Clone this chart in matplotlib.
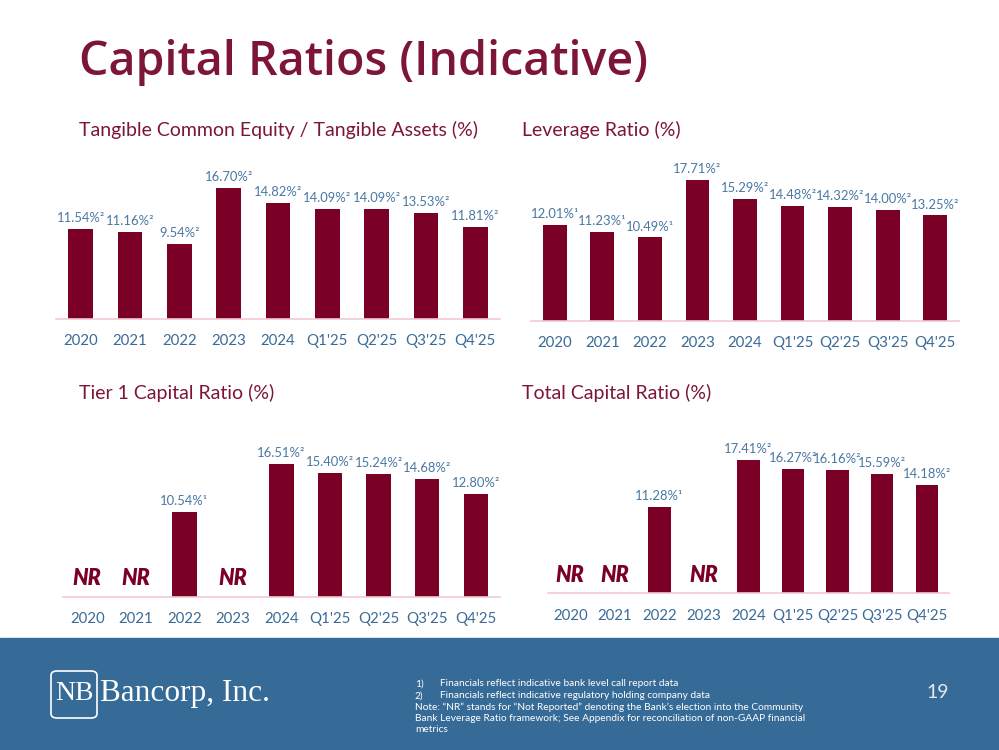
import matplotlib
matplotlib.use("Agg")
import matplotlib.pyplot as plt
from matplotlib.patches import Rectangle, FancyBboxPatch

categories = ["2020", "2021", "2022", "2023", "2024", "Q1'25", "Q2'25", "Q3'25", "Q4'25"]

tce_values = [11.54, 11.16, 9.54, 16.70, 14.82, 14.09, 14.09, 13.53, 11.81]
tce_notes = ["²", "²", "²", "²", "²", "²", "²", "²", "²"]

lev_values = [12.01, 11.23, 10.49, 17.71, 15.29, 14.48, 14.32, 14.00, 13.25]
lev_notes = ["¹", "¹", "¹", "²", "²", "²", "²", "²", "²"]

tier1_values = [None, None, 10.54, None, 16.51, 15.40, 15.24, 14.68, 12.80]
tier1_notes = ["", "", "¹", "", "²", "²", "²", "²", "²"]

total_values = [None, None, 11.28, None, 17.41, 16.27, 16.16, 15.59, 14.18]
total_notes = ["", "", "¹", "", "²", "²", "²", "²", "²"]

W, H = 999, 750
fig = plt.figure(figsize=(W / 100, H / 100), dpi=100)
fig.patch.set_facecolor("white")

BAR = "#7A0026"
MAROON = "#7D1636"
BLUE_TICK = "#3A6A98"
BLUE_LBL = "#4A78A3"
AXLINE = "#F3C9D3"
FONT = ["Lato", "DejaVu Sans"]


def fx(x):
    return x / W


def fy(y):
    return 1 - y / H


def make_panel(left, right, top, base, ymax, values, notes, title, title_x, title_y, lbl_fs=9.4):
    ax = fig.add_axes([fx(left), fy(base), fx(right) - fx(left), fy(top) - fy(base)])
    ax.set_xlim(-0.5, len(categories) - 0.5)
    ax.set_ylim(0, ymax)
    for i, v in enumerate(values):
        if v is None:
            ax.text(i, ymax * 0.115, "NR", ha="center", va="center", fontsize=15.5,
                    fontweight="heavy", fontstyle="italic", color=BAR, family=FONT)
            continue
        ax.bar(i, v, width=0.5, color=BAR, zorder=2)
        ax.annotate(f"{v:.2f}%{notes[i]}", (i, v), xytext=(0, 3.5), textcoords="offset points",
                    ha="center", va="bottom", fontsize=lbl_fs, color=BLUE_LBL, family=FONT)
    for s in ["top", "right", "left"]:
        ax.spines[s].set_visible(False)
    ax.spines["bottom"].set_color(AXLINE)
    ax.spines["bottom"].set_linewidth(1.2)
    ax.set_yticks([])
    ax.set_xticks(range(len(categories)))
    ax.set_xticklabels(categories, fontsize=10.8, color=BLUE_TICK, family=FONT)
    ax.tick_params(axis="x", length=0, pad=11)
    ax.patch.set_alpha(0)
    fig.text(fx(title_x), fy(title_y), title, ha="left", va="center", fontsize=14,
             color=MAROON, family=FONT)
    return ax


make_panel(56, 500, 160, 319, (319 - 160) / 7.83, tce_values, tce_notes,
           "Tangible Common Equity / Tangible Assets (%)", 79, 130)
make_panel(531, 959, 160, 320.7, (320.7 - 160) / 7.94, lev_values, lev_notes,
           "Leverage Ratio (%)", 522, 130)
make_panel(63, 500, 440, 596.7, (596.7 - 440) / 8.05, tier1_values, tier1_notes,
           "Tier 1 Capital Ratio (%)", 79, 393)
make_panel(548, 949, 440, 593.3, (593.3 - 440) / 7.66, total_values, total_notes,
           "Total Capital Ratio (%)", 522, 393)

# Main title
fig.text(fx(79), fy(62), "Capital Ratios (Indicative)", ha="left", va="center",
         fontsize=33.5, fontweight="semibold", color=MAROON, family=["Open Sans", "DejaVu Sans"])

# Footer band
band = Rectangle((0, 0), 1, fy(638), transform=fig.transFigure, color="#366B97", zorder=0)
fig.patches.append(band)

logo_box = FancyBboxPatch((fx(51), fy(718)), fx(97) - fx(51), fy(671) - fy(718),
                          boxstyle="round,pad=0,rounding_size=0.006", transform=fig.transFigure,
                          facecolor="none", edgecolor="white", linewidth=1.2, zorder=2)
fig.patches.append(logo_box)
fig.text(fx(74), fy(694), "NB", ha="center", va="center", fontsize=20, color="white",
         family=["Liberation Serif", "DejaVu Serif"])
fig.text(fx(100), fy(693), "Bancorp, Inc.", ha="left", va="center", fontsize=22.5, color="white",
         family=["Liberation Serif", "DejaVu Serif"])

foot_lines = [
    ("1)", "Financials reflect indicative bank level call report data"),
    ("2)", "Financials reflect indicative regulatory holding company data"),
]
ys = [684, 695.7, 707, 718.5, 730]
FS = 7.3
for (num, txt), y in zip(foot_lines, ys[:2]):
    fig.text(fx(415), fy(y), num, ha="left", va="center", fontsize=FS, color="white", family=FONT)
    fig.text(fx(440), fy(y), txt, ha="left", va="center", fontsize=FS, color="white", family=FONT)
note_lines = [
    "Note: \u201cNR\u201d stands for \u201cNot Reported\u201d denoting the Bank\u2019s election into the Community",
    "Bank Leverage Ratio framework; See Appendix for reconciliation of non-GAAP financial",
    "metrics",
]
for txt, y in zip(note_lines, ys[2:]):
    fig.text(fx(415), fy(y), txt, ha="left", va="center", fontsize=FS, color="white", family=FONT)

fig.text(fx(938), fy(693), "19", ha="center", va="center", fontsize=14, color="#E2E9F1",
         family=FONT)

fig.savefig("out.png", dpi=100)
